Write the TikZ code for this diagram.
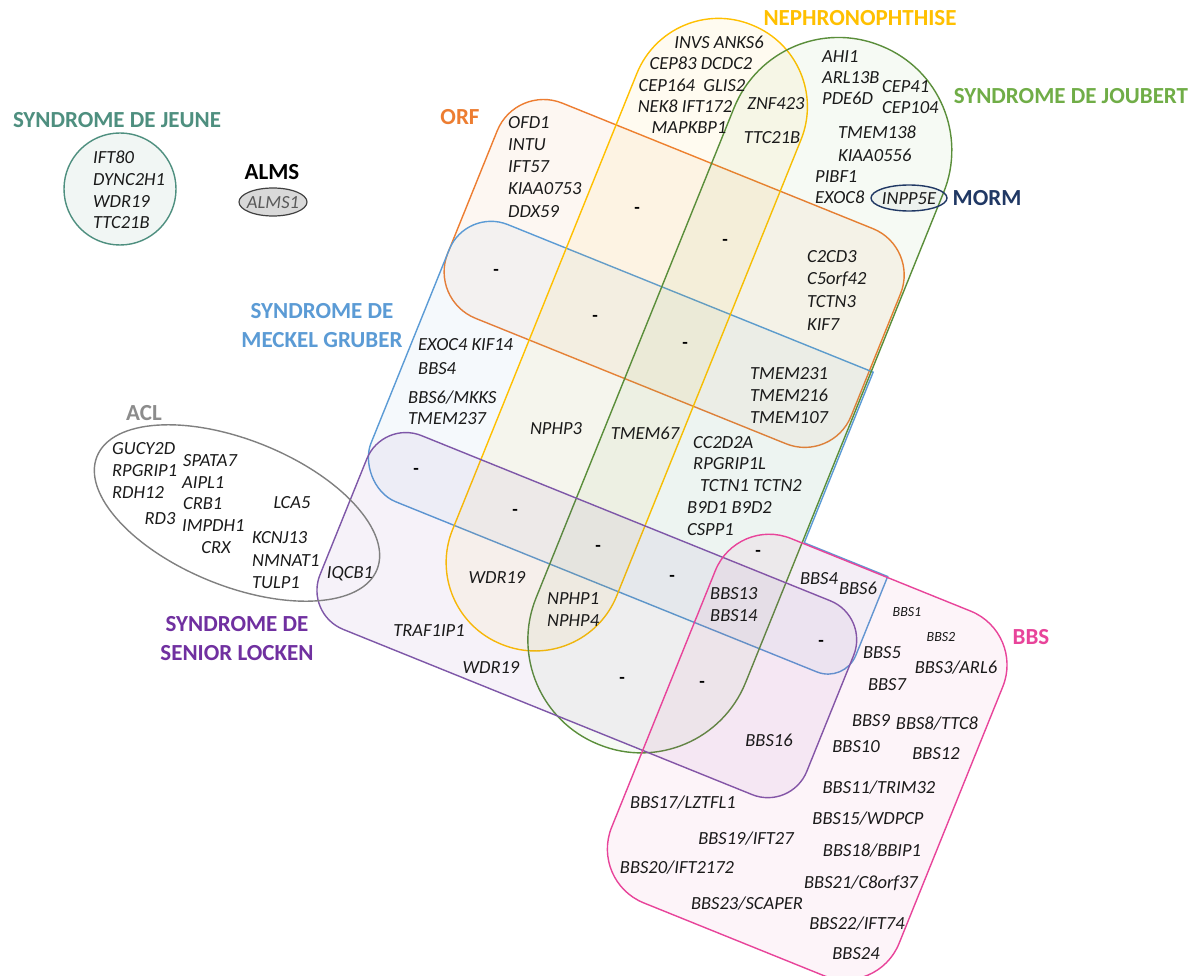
\documentclass[tikz,border=0pt]{standalone}
\usepackage{fontspec}
\setmainfont{Carlito}
\definecolor{orfc}{HTML}{ED7D31}
\definecolor{mkc}{HTML}{5B9BD5}
\definecolor{nphc}{HTML}{FFC000}
\definecolor{jbc}{HTML}{70AD47}
\definecolor{jbl}{HTML}{5A8E3A}
\definecolor{slc}{HTML}{7030A0}
\definecolor{sll}{HTML}{7E57A8}
\definecolor{bbsc}{HTML}{E8449A}
\definecolor{jnc}{HTML}{4E8F7F}
\definecolor{aclc}{HTML}{8C8C8C}
\definecolor{mormc}{HTML}{203864}
\definecolor{genec}{HTML}{1A1A1A}
\definecolor{almsf}{HTML}{D9D9D9}
\tikzset{
  gene/.style={font=\fontsize{18.5}{20}\selectfont\itshape, text=genec, inner sep=0pt, text height=12pt, text depth=0pt},
  genesm/.style={font=\fontsize{14}{16}\selectfont\itshape, text=genec, inner sep=0pt, text height=9pt, text depth=0pt},
  ttl/.style={font=\fontsize{23}{29}\selectfont\bfseries, inner sep=0pt, align=center},
  dsh/.style={font=\fontsize{18}{20}\selectfont\bfseries, inner sep=0pt},
  region/.style={line width=1.4pt, fill opacity=0.06},
}
\begin{document}
\begin{tikzpicture}[x=1pt,y=-1pt]
\useasboundingbox (0,0) rectangle (1199,976);
\fill[white] (0,0) rectangle (1199,976);

% rotated sets (local coordinates: s along the long axis, t across)
\begin{scope}[rotate=-22]
  % ORF
  \draw[region, draw=orfc, fill=orfc, rounded corners=50pt] (510,-115) rectangle (945,117);
  % Meckel Gruber
  \draw[region, draw=mkc, fill=mkc]
    (510,63) .. controls (510,38.2) and (530.2,18) .. (555,18)
    -- (949,18) -- (949,202) -- (1039,202) -- (1039,287)
    .. controls (1039,303.6) and (1025.6,317) .. (1009,317)
    -- (555,317) .. controls (530.2,317) and (510,292.2) .. (510,272) -- cycle;
  % Nephronophthise
  \draw[region, draw=nphc, fill=nphc, rounded corners=88pt] (618,-258.5) rectangle (795,409.5);
  % Joubert
  \draw[region, draw=jbl, fill=jbc, rounded corners=112.5pt] (721,-287.5) rectangle (947,466);
  % Senior Locken
  \draw[region, draw=sll, fill=slc, rounded corners=42pt] (512,246) rectangle (1037,455);
  % BBS
  \draw[region, draw=bbsc, fill=bbsc, rounded corners=58pt] (877,203) rectangle (1187,596);
\end{scope}

% Jeune
\draw[line width=1.4pt, draw=jnc, fill=jnc, fill opacity=0.08] (120,189) circle[radius=56];
% ALMS
\draw[line width=1.2pt, draw=black!75, fill=almsf] (273,202) ellipse[x radius=34, y radius=14];
% ACL
\draw[line width=1.4pt, draw=black!50, rotate around={-22:(237,513)}] (237,513) ellipse[x radius=151, y radius=73];
% MORM
\draw[line width=1.4pt, draw=mormc, fill=mormc, fill opacity=0.04] (909,198) ellipse[x radius=38, y radius=13];

% titles
\node[ttl, text=jnc] (tjeune) at (117,120) {SYNDROME DE JEUNE};
\node[ttl] (talms) at (272,172) {ALMS};
\node[ttl, text=nphc] (tneph) at (860,18) {NEPHRONOPHTHISE};
\node[ttl, text=jbc] (tjoub) at (1071,96) {SYNDROME DE JOUBERT};
\node[ttl, text=orfc] (torf) at (460,117) {ORF};
\node[ttl, text=mormc] (tmorm) at (987,198) {MORM};
\node[ttl, text=mkc] (tmeck) at (322,326) {SYNDROME DE\\MECKEL GRUBER};
\node[ttl, text=aclc] (tacl) at (144,413) {ACL};
\node[ttl, text=slc] (tsl) at (237,639) {SYNDROME DE\\SENIOR LOCKEN};
\node[ttl, text=bbsc] (tbbs) at (1031,637) {BBS};

% Jeune genes
\node[gene, anchor=west] (j1) at (93,158) {IFT80};
\node[gene, anchor=west] (j2) at (93,180) {DYNC2H1};
\node[gene, anchor=west] (j3) at (93,202) {WDR19};
\node[gene, anchor=west] (j4) at (93,223) {TTC21B};
\node[gene, text=black!65] (al1) at (273,203) {ALMS1};

% Nephronophthise genes
\node[gene] (n1) at (719,43) {INVS ANKS6};
\node[gene] (n2) at (701,64) {CEP83 DCDC2};
\node[gene] (n3) at (692,86) {CEP164\ \ GLIS2};
\node[gene] (n4) at (685,107) {NEK8 IFT172};
\node[gene] (n5) at (689,128) {MAPKBP1};
\node[gene] (n6) at (776,104) {ZNF423};
\node[gene] (n7) at (772,138) {TTC21B};

% Joubert genes
\node[gene, anchor=west] (jb1) at (822,57) {AHI1};
\node[gene, anchor=west] (jb2) at (822,78) {ARL13B};
\node[gene, anchor=west] (jb3) at (822,99) {PDE6D};
\node[gene, anchor=west] (jb4) at (882,87) {CEP41};
\node[gene, anchor=west] (jb5) at (882,108) {CEP104};
\node[gene, anchor=west] (jb6) at (838,133) {TMEM138};
\node[gene, anchor=west] (jb7) at (838,156) {KIAA0556};
\node[gene, anchor=west] (jb8) at (815,177) {PIBF1};
\node[gene, anchor=west] (jb9) at (815,198) {EXOC8};
\node[gene] (mo1) at (909,199) {INPP5E};

% ORF genes
\node[gene, anchor=west] (o1) at (508,123) {OFD1};
\node[gene, anchor=west] (o2) at (508,145) {INTU};
\node[gene, anchor=west] (o3) at (508,167) {IFT57};
\node[gene, anchor=west] (o4) at (508,189) {KIAA0753};
\node[gene, anchor=west] (o5) at (508,212) {DDX59};
\node[gene, anchor=west] (o6) at (807,257) {C2CD3};
\node[gene, anchor=west] (o7) at (807,279) {C5orf42};
\node[gene, anchor=west] (o8) at (807,301) {TCTN3};
\node[gene, anchor=west] (o9) at (807,324) {KIF7};
\node[gene, anchor=west] (o10) at (750,373) {TMEM231};
\node[gene, anchor=west] (o11) at (750,395) {TMEM216};
\node[gene, anchor=west] (o12) at (750,417) {TMEM107};

% Meckel genes
\node[gene, anchor=west] (m1) at (418,344) {EXOC4 KIF14};
\node[gene, anchor=west] (m2) at (418,368) {BBS4};
\node[gene, anchor=west] (m3) at (408,397) {BBS6/MKKS};
\node[gene, anchor=west] (m4) at (408,418) {TMEM237};
\node[gene] (m5) at (556,428) {NPHP3};
\node[gene] (m6) at (645,433) {TMEM67};
\node[gene, anchor=west] (m7) at (693,442) {CC2D2A};
\node[gene, anchor=west] (m8) at (693,463) {RPGRIP1L};
\node[gene, anchor=west] (m9) at (700,485) {TCTN1 TCTN2};
\node[gene, anchor=west] (m10) at (687,507) {B9D1 B9D2};
\node[gene, anchor=west] (m11) at (687,529) {CSPP1};
\node[gene, anchor=west] (m12) at (710,593) {BBS13};
\node[gene, anchor=west] (m13) at (710,615) {BBS14};
\node[gene] (m14) at (819,578) {BBS4};
\node[gene] (m15) at (858,588) {BBS6};

% Senior Locken genes
\node[gene] (s1) at (497,577) {WDR19};
\node[gene, anchor=west] (s2) at (547,598) {NPHP1};
\node[gene, anchor=west] (s3) at (547,620) {NPHP4};
\node[gene] (s4) at (429,630) {TRAF1IP1};
\node[gene] (s5) at (491,667) {WDR19};
\node[gene] (s6) at (350,572) {IQCB1};
\node[gene] (s7) at (769,740) {BBS16};

% ACL genes
\node[gene, anchor=west] (a1) at (112,448) {GUCY2D};
\node[gene, anchor=west] (a2) at (112,470) {RPGRIP1};
\node[gene, anchor=west] (a3) at (112,492) {RDH12};
\node[gene] (a4) at (160,518) {RD3};
\node[gene, anchor=west] (a5) at (183,460) {SPATA7};
\node[gene, anchor=west] (a6) at (182,482) {AIPL1};
\node[gene, anchor=west] (a7) at (183,503) {CRB1};
\node[gene, anchor=west] (a8) at (182,525) {IMPDH1};
\node[gene] (a9) at (216,547) {CRX};
\node[gene] (a10) at (292,502) {LCA5};
\node[gene, anchor=west] (a11) at (252,537) {KCNJ13};
\node[gene, anchor=west] (a12) at (252,560) {NMNAT1};
\node[gene, anchor=west] (a13) at (252,582) {TULP1};

% BBS genes
\node[genesm] (b1) at (907,612) {BBS1};
\node[genesm] (b2) at (941,637) {BBS2};
\node[gene] (b5) at (882,652) {BBS5};
\node[gene] (b3) at (956,667) {BBS3/ARL6};
\node[gene] (b7) at (887,684) {BBS7};
\node[gene] (b9) at (871,720) {BBS9};
\node[gene] (b8) at (937,723) {BBS8/TTC8};
\node[gene] (b10) at (856,746) {BBS10};
\node[gene] (b12) at (936,753) {BBS12};
\node[gene] (b11) at (879,787) {BBS11/TRIM32};
\node[gene] (b17) at (683,802) {BBS17/LZTFL1};
\node[gene] (b15) at (868,818) {BBS15/WDPCP};
\node[gene] (b19) at (746,838) {BBS19/IFT27};
\node[gene] (b18) at (872,850) {BBS18/BBIP1};
\node[gene] (b20) at (677,867) {BBS20/IFT2172};
\node[gene] (b21) at (861,882) {BBS21/C8orf37};
\node[gene] (b23) at (747,903) {BBS23/SCAPER};
\node[gene] (b22) at (857,923) {BBS22/IFT74};
\node[gene] (b24) at (856,953) {BBS24};

% empty intersections
\node[dsh] (d1) at (637,210) {-};
\node[dsh] (d2) at (725,242) {-};
\node[dsh] (d3) at (496,272) {-};
\node[dsh] (d4) at (595,318) {-};
\node[dsh] (d5) at (685,345) {-};
\node[dsh] (d6) at (416,471) {-};
\node[dsh] (d7) at (515,512) {-};
\node[dsh] (d8) at (598,548) {-};
\node[dsh] (d9) at (672,578) {-};
\node[dsh] (d10) at (758,553) {-};
\node[dsh] (d11) at (821,643) {-};
\node[dsh] (d12) at (622,680) {-};
\node[dsh] (d13) at (702,684) {-};
\end{tikzpicture}
\end{document}
